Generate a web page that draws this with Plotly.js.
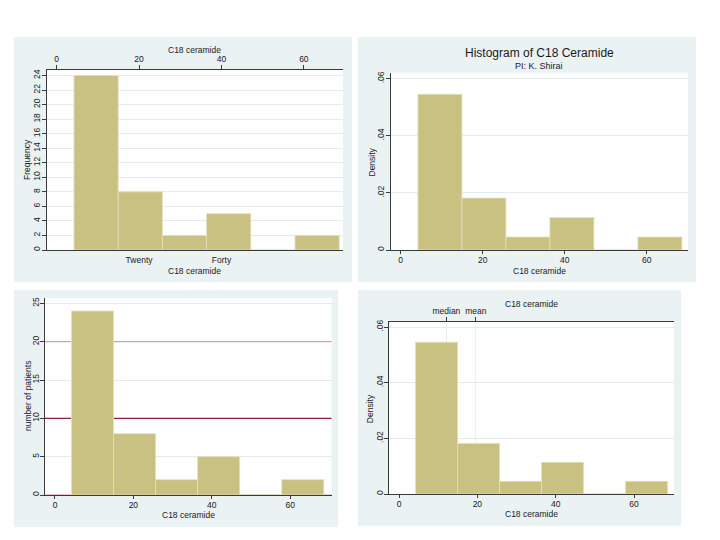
<!DOCTYPE html>
<html><head><meta charset="utf-8">
<script src="https://cdn.plot.ly/plotly-3.0.1.min.js"></script>
<style>html,body{margin:0;padding:0;background:#fff}#chart{width:720px;height:540px}</style>
</head><body><div id="chart"></div>
<script>
// ---- data ----
const binStart = 4.2;
const binWidth = 10.73;
const counts = [24, 8, 2, 5, 0, 2];
const xTicks = [0, 20, 40, 60];
const panel1BottomTicks = [20, 40];
const panel1BottomLabels = ['Twenty', 'Forty'];
const freqTicks = [0, 2, 4, 6, 8, 10, 12, 14, 16, 18, 20, 22, 24];
const patientTicks = [0, 5, 10, 15, 20, 25];
const densityTicks = [0, 0.02, 0.04, 0.06];
const densityLabels = ['0', '.02', '.04', '.06'];
const pinkLines = [0, 20];
const maroonLines = [10];
const statTicks = [12.1, 19.6];
const statLabels = ['median', 'mean'];

// ---- derived ----
const nObs = counts.reduce((a, b) => a + b, 0);
const centers = counts.map((c, i) => binStart + binWidth * (i + 0.5));
const density = counts.map(c => c / (nObs * binWidth));

const W = 720, H = 540;
const dx = (a, b) => [a / W, b / W];
const dy = (t, b) => [1 - b / H, 1 - t / H];

const FONT = '"Liberation Sans", Arial, sans-serif';
const TXT = '#1a1a1a';
const AX = '#3a3a3a';
const GRID = '#E2EBED';
const PANEL = 'rgb(234,242,243)';
const BAR = '#C9C182';
const BAREDGE = '#E4E0BE';
const tf = {family: FONT, size: 8.5, color: TXT};

function barTrace(xa, ya, yvals) {
  return {type: 'bar', x: centers, y: yvals, width: binWidth, xaxis: xa, yaxis: ya,
    marker: {color: BAR, line: {color: BAREDGE, width: 0.8}}, hoverinfo: 'skip', showlegend: false};
}
function ghost(xa, ya, yvals) {
  return {type: 'scatter', mode: 'none', x: centers, y: yvals, xaxis: xa, yaxis: ya,
    hoverinfo: 'skip', showlegend: false};
}
const data = [
  barTrace('x', 'y', counts),
  ghost('x5', 'y', counts),
  barTrace('x2', 'y2', density),
  barTrace('x3', 'y3', counts),
  barTrace('x4', 'y4', density),
  ghost('x6', 'y4', density)
];

function xax(domain, range, anchor, extra) {
  return Object.assign({domain, range, anchor, showline: true, linecolor: AX, linewidth: 1,
    ticks: 'outside', ticklen: 3, tickcolor: AX, tickwidth: 1, tickvals: xTicks, ticklabelstandoff: -1,
    showgrid: false, zeroline: false, fixedrange: true, tickfont: tf}, extra || {});
}
function yax(domain, range, anchor, extra) {
  return Object.assign({domain, range, anchor, showline: true, linecolor: AX, linewidth: 1,
    ticks: 'outside', ticklen: 4, tickcolor: AX, tickwidth: 1, tickangle: -90, ticklabelstandoff: -2,
    showgrid: true, gridcolor: GRID, gridwidth: 1, zeroline: false, fixedrange: true, tickfont: tf}, extra || {});
}

// plot areas in px [left, top, right, bottom]
const P1 = [46.5, 70, 343, 250];
const P2 = [390.7, 73, 688, 250];
const P3 = [45, 298, 331.7, 495];
const P4 = [389.3, 322.3, 674, 494];
const R1 = [-2.47, 69.5], R2 = [-2.44, 70.07], R3 = [-2.55, 70.6], R4 = [-2.48, 70.2];

const layout = {
  width: W, height: H, margin: {l: 0, r: 0, t: 0, b: 0},
  paper_bgcolor: '#ffffff', plot_bgcolor: 'rgba(0,0,0,0)',
  font: {family: FONT, size: 8.5, color: TXT},
  showlegend: false, bargap: 0,
  xaxis: xax(dx(P1[0], P1[2]), R1, 'y', {tickvals: panel1BottomTicks, ticktext: panel1BottomLabels, tickcolor: 'rgba(0,0,0,0)'}),
  xaxis5: xax(dx(P1[0], P1[2]), R1, 'y', {overlaying: 'x', side: 'top', ticklen: 4, ticklabelstandoff: 0}),
  yaxis: yax(dy(P1[1], P1[3]), [0, 24.76], 'x', {tickvals: freqTicks}),
  xaxis2: xax(dx(P2[0], P2[2]), R2, 'y2'),
  yaxis2: yax(dy(P2[1], P2[3]), [0, 0.062], 'x2', {tickvals: densityTicks, ticktext: densityLabels}),
  xaxis3: xax(dx(P3[0], P3[2]), R3, 'y3'),
  yaxis3: yax(dy(P3[1], P3[3]), [0, 25.7], 'x3', {tickvals: patientTicks}),
  xaxis4: xax(dx(P4[0], P4[2]), R4, 'y4'),
  xaxis6: xax(dx(P4[0], P4[2]), R4, 'y4', {overlaying: 'x4', side: 'top', tickvals: statTicks, ticktext: statLabels,
    ticklen: 4, ticklabelstandoff: 0, showgrid: true, gridcolor: '#E9EFF1', gridwidth: 1}),
  yaxis4: yax(dy(P4[1], P4[3]), [0, 0.0617], 'x4', {tickvals: densityTicks, ticktext: densityLabels}),
  shapes: [],
  annotations: []
};

function pxRect(r, color) {
  return {type: 'rect', xref: 'paper', yref: 'paper', layer: 'below',
    x0: r[0] / W, x1: r[2] / W, y0: 1 - r[3] / H, y1: 1 - r[1] / H,
    fillcolor: color, line: {width: 0}};
}
[[14, 37, 352, 282], [358, 37, 696, 282], [14, 290, 338, 527], [358, 290, 681, 526]]
  .forEach(r => layout.shapes.push(pxRect(r, PANEL)));
[P1, P2, P3, P4].forEach(r => layout.shapes.push(pxRect(r, '#ffffff')));
pinkLines.forEach(v => layout.shapes.push({type: 'line', xref: 'x3', yref: 'y3', layer: 'between',
  x0: R3[0], x1: R3[1], y0: v, y1: v, line: {color: '#D08A9E', width: 1}}));
maroonLines.forEach(v => layout.shapes.push({type: 'line', xref: 'x3', yref: 'y3', layer: 'between',
  x0: R3[0], x1: R3[1], y0: v, y1: v, line: {color: '#8E1F3C', width: 1.2}}));

function ann(text, x, y, opts) {
  layout.annotations.push(Object.assign({text, xref: 'paper', yref: 'paper', x: x / W, y: 1 - y / H,
    xanchor: 'center', yanchor: 'middle', showarrow: false, borderpad: 0,
    font: {family: FONT, size: 8.5, color: TXT}}, opts || {}));
}
const cx = p => (p[0] + p[2]) / 2, cy = p => (p[1] + p[3]) / 2;
// panel 1
ann('C18 ceramide', cx(P1), 50);
ann('C18 ceramide', cx(P1), 270.5);
ann('Frequency', 27, cy(P1), {textangle: -90});
// panel 2
ann('Histogram of C18 Ceramide', cx(P2), 53, {font: {family: FONT, size: 12, color: TXT}});
ann('PI: K. Shirai', cx(P2), 66.5, {font: {family: FONT, size: 9, color: TXT}});
ann('C18 ceramide', cx(P2), 270.5);
ann('Density', 371, cy(P2), {textangle: -90});
// panel 3
ann('C18 ceramide', cx(P3), 514.5);
ann('number of patients', 27.5, cy(P3), {textangle: -90});
// panel 4
ann('C18 ceramide', cx(P4), 304);
ann('C18 ceramide', cx(P4), 514);
ann('Density', 370, cy(P4), {textangle: -90});

Plotly.newPlot('chart', data, layout, {staticPlot: true, displayModeBar: false});
</script>
</body></html>
